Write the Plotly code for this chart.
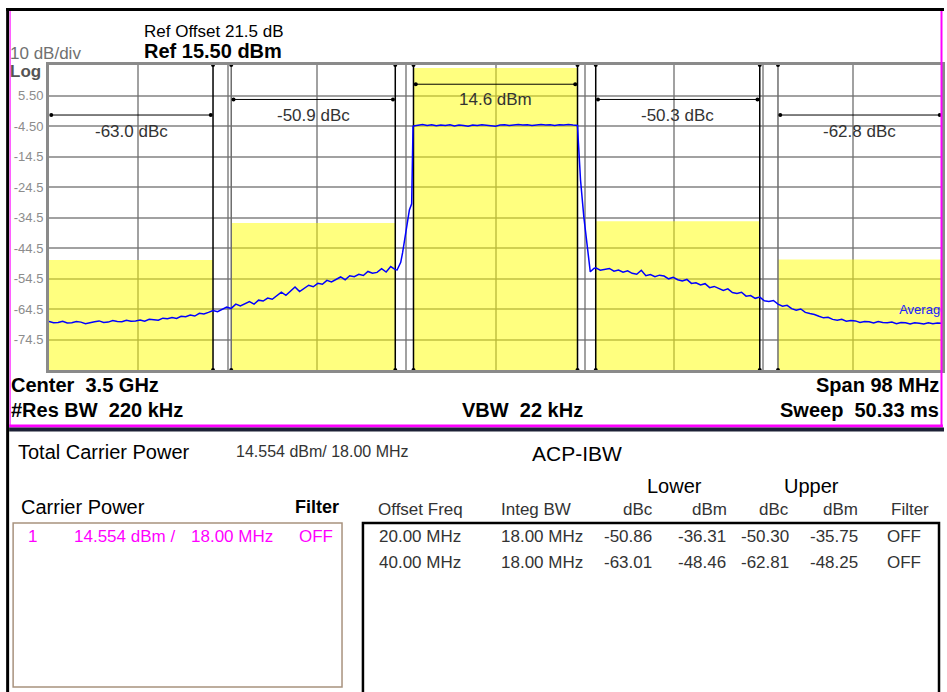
import plotly.graph_objects as go

# ---------------- instrument settings ----------------
REF_LEVEL_DBM = 15.5
DB_PER_DIV = 10
N_DIV = 10
SPAN_MHZ = 98.0
SWEEP_STEP_MHZ = 0.5

y_tick_vals = [5.5, -4.5, -14.5, -24.5, -34.5, -44.5, -54.5, -64.5, -74.5]
y_tick_text = ["5.50", "-4.50", "-14.5", "-24.5", "-34.5", "-44.5", "-54.5", "-64.5", "-74.5"]
x_grid_mhz = [-39.2, -29.4, -19.6, -9.8, 0.0, 9.8, 19.6, 29.4, 39.2]

# ---------------- ACP results ----------------
carrier_power_dbm = 14.554
integ_bw_mhz = 18.0
offset_freq_mhz = [20.0, 40.0]
lower_dbc = [-50.86, -63.01]
lower_dbm = [-36.31, -48.46]
upper_dbc = [-50.30, -62.81]
upper_dbm = [-35.75, -48.25]

# ---------------- measured trace (read from the screen) ----------------
# lower out-of-band, -49.0 .. -11.0 MHz in 0.5 MHz steps
lower_noise_dbm = [
    -68.6, -69.0, -68.9, -68.5, -69.1, -69.0, -68.6, -68.8, -69.3, -68.9,
    -68.7, -68.4, -68.9, -68.8, -68.3, -68.6, -68.7, -68.2, -68.5, -68.4,
    -68.1, -68.5, -67.9, -68.0, -68.2, -67.5, -67.7, -67.3, -67.6, -66.9,
    -67.0, -66.5, -66.8, -65.9, -66.1, -65.6, -65.0, -65.4, -64.6, -63.9,
    -64.3, -62.9, -63.5, -62.8, -62.1, -62.9, -61.6, -61.9, -60.9, -61.3,
    -60.1, -59.0, -60.0, -58.5, -57.3, -58.8, -57.6, -56.7, -57.2, -56.1,
    -56.4, -55.1, -55.6, -54.8, -54.0, -54.9, -53.6, -53.9, -53.1, -53.5,
    -52.2, -52.8, -52.5, -51.3, -52.4, -50.6, -51.6]
lower_skirt_freq = [-10.8, -10.4, -10.2, -10.0, -9.7, -9.45, -9.2, -9.15, -9.05]
lower_skirt_dbm = [-51.7, -49.2, -46.1, -41.9, -36.5, -32.0, -30.0, -12.0, -4.6]
# in-band, -9.0 .. 9.0 MHz in 0.5 MHz steps
carrier_flat_dbm = [
    -4.5, -4.2, -4.0, -4.3, -4.1, -4.4, -4.2, -4.3, -4.1, -4.5,
    -4.2, -4.3, -4.6, -4.2, -4.3, -4.1, -4.2, -4.4, -4.6, -4.2,
    -4.1, -4.3, -4.2, -4.0, -4.2, -4.1, -4.3, -4.2, -4.0, -4.2,
    -4.1, -4.3, -4.1, -4.2, -4.0, -4.2, -4.3]
upper_skirt_freq = [9.1, 9.33, 9.69, 10.05, 10.4, 10.8]
upper_skirt_dbm = [-10.0, -22.2, -34.2, -44.1, -52.3, -51.2]
# upper out-of-band, 11.0 .. 49.0 MHz in 0.5 MHz steps
upper_noise_dbm = [
    -51.0, -51.8, -51.5, -51.2, -52.1, -51.7, -52.4, -52.0, -52.8, -53.1,
    -51.8, -53.6, -53.2, -53.9, -53.4, -53.7, -54.6, -54.1, -54.9, -55.3,
    -54.8, -56.1, -55.9, -56.6, -56.2, -57.5, -57.1, -57.8, -58.4, -57.9,
    -59.1, -59.4, -59.0, -60.3, -60.1, -61.0, -60.6, -61.8, -62.0, -61.7,
    -62.9, -63.6, -63.3, -64.4, -64.9, -64.5, -65.6, -66.0, -66.3, -66.9,
    -67.4, -67.2, -67.9, -68.2, -67.9, -68.5, -68.3, -68.4, -68.9, -68.6,
    -68.7, -69.1, -68.6, -68.9, -69.0, -68.8, -69.3, -68.9, -69.0, -69.4,
    -69.0, -69.2, -69.4, -69.0, -69.3, -69.1, -69.2]

lower_freq = [-49.0 + SWEEP_STEP_MHZ * i for i in range(len(lower_noise_dbm))]
carrier_freq = [-9.0 + SWEEP_STEP_MHZ * i for i in range(len(carrier_flat_dbm))]
upper_freq = [11.0 + SWEEP_STEP_MHZ * i for i in range(len(upper_noise_dbm))]

trace_freq = lower_freq + lower_skirt_freq + carrier_freq + upper_skirt_freq + upper_freq
trace_dbm = lower_noise_dbm + lower_skirt_dbm + carrier_flat_dbm + upper_skirt_dbm + upper_noise_dbm

# ---------------- geometry helpers ----------------
W, H = 947, 692
ML, MR, MT, MB = 49, 2, 65, 322
PW, PH = W - ML - MR, H - MT - MB
Y_BOTTOM = REF_LEVEL_DBM - N_DIV * DB_PER_DIV
HALF_SPAN = SPAN_MHZ / 2
FONT = "Liberation Sans, Arial, sans-serif"


def fx(px):
    return (px - ML) / PW


def fy(py):
    return (H - MB - py) / PH


annotations = []


def txt(x, y, s, size, color="#000000", anchor="left"):
    annotations.append(dict(x=fx(x), y=fy(y), xref="paper", yref="paper", text=s,
                            showarrow=False, xanchor=anchor, yanchor="middle",
                            font=dict(family=FONT, size=size, color=color), borderpad=0))


fig = go.Figure()

# yellow channel-power boxes
centers = [-offset_freq_mhz[1], -offset_freq_mhz[0], 0.0, offset_freq_mhz[0], offset_freq_mhz[1]]
tops = [lower_dbm[1], lower_dbm[0], carrier_power_dbm, upper_dbm[0], upper_dbm[1]]
fig.add_trace(go.Bar(x=centers, y=[t - Y_BOTTOM for t in tops], base=Y_BOTTOM, width=integ_bw_mhz,
                     marker=dict(color="rgba(255,255,0,0.5)", line=dict(width=0)),
                     showlegend=False, hoverinfo="skip"))

# channel edge markers
half = integ_bw_mhz / 2
edges = []
for c in centers:
    for e in (c - half, c + half):
        if abs(e) < HALF_SPAN - 0.01:
            edges.append(e)
grey_edges = [-(offset_freq_mhz[0] + half), offset_freq_mhz[1] - half]
for e in edges:
    col = "#6e6e6e" if any(abs(e - g) < 1e-6 for g in grey_edges) else "#000000"
    fig.add_trace(go.Scatter(x=[e, e], y=[Y_BOTTOM, REF_LEVEL_DBM], mode="lines+markers",
                             line=dict(color=col, width=1.5), marker=dict(size=4, color="#000000"),
                             cliponaxis=False, showlegend=False, hoverinfo="skip"))

# measurement bars + labels
meas_levels = [-0.9, 4.2, 9.2, 4.2, -0.9]
label_levels = [-6.2, -1.0, 4.1, -1.0, -6.2]
labels = [f"{lower_dbc[1]:.1f} dBc", f"{lower_dbc[0]:.1f} dBc", f"{carrier_power_dbm:.1f} dBm",
          f"{upper_dbc[0]:.1f} dBc", f"{upper_dbc[1]:.1f} dBc"]
for c, lv, ly, lab in zip(centers, meas_levels, label_levels, labels):
    fig.add_trace(go.Scatter(x=[c - half + 0.25, c + half - 0.25], y=[lv, lv], mode="lines+markers",
                             line=dict(color="#000000", width=1), marker=dict(size=4, color="#000000"),
                             showlegend=False, hoverinfo="skip"))
    annotations.append(dict(x=c, y=ly, xref="x", yref="y", text=lab, showarrow=False,
                            xanchor="center", yanchor="middle",
                            font=dict(family=FONT, size=17, color="#333333")))

# spectrum trace
fig.add_trace(go.Scatter(x=trace_freq, y=trace_dbm, mode="lines",
                         line=dict(color="#0000ff", width=1.5), showlegend=False, hoverinfo="skip"))
fig.add_trace(go.Scatter(x=[44.3], y=[-65.2], mode="text", text=["Average"], textposition="middle right",
                         textfont=dict(family=FONT, size=13, color="#2020ff"), cliponaxis=True,
                         showlegend=False, hoverinfo="skip"))

# ---------------- header / footer texts ----------------
txt(143, 31, "Ref Offset 21.5 dB", 17)
txt(143, 51, "<b>Ref 15.50 dBm</b>", 20)
txt(9, 53, "10 dB/div", 17, "#707070")
txt(9, 71, "<b>Log</b>", 17, "#555555")

txt(10, 385, "<b>Center\u00a0 3.5 GHz</b>", 20)
txt(10, 410, "<b>#Res BW\u00a0 220 kHz</b>", 20)
txt(524, 410, "<b>VBW\u00a0 22 kHz</b>", 20, anchor="center")
txt(943, 385, "<b>Span 98 MHz</b>", 20, anchor="right")
txt(943, 410, "<b>Sweep\u00a0 50.33 ms</b>", 20, anchor="right")

# bottom panel
txt(17, 452, "Total Carrier Power", 20)
txt(236, 451, f"{carrier_power_dbm:.3f} dBm/ {integ_bw_mhz:.2f} MHz", 16, "#333333")
txt(533, 453, "ACP-IBW", 21)
txt(648, 486, "Lower", 20)
txt(785, 486, "Upper", 20)
txt(20, 507, "Carrier Power", 20)
txt(341, 507, "<b>Filter</b>", 18, anchor="right")

hdr = "#333333"
txt(378, 509, "Offset Freq", 17, hdr)
txt(502, 509, "Integ BW", 17, hdr)
txt(656, 509, "dBc", 17, hdr, "right")
txt(730, 509, "dBm", 17, hdr, "right")
txt(792, 509, "dBc", 17, hdr, "right")
txt(862, 509, "dBm", 17, hdr, "right")
txt(933, 509, "Filter", 17, hdr, "right")

for i, yy in enumerate([536, 562]):
    txt(379, yy, f"{offset_freq_mhz[i]:.2f} MHz", 17, hdr)
    txt(502, yy, f"{integ_bw_mhz:.2f} MHz", 17, hdr)
    txt(655, yy, f"{lower_dbc[i]:.2f}", 17, hdr, "right")
    txt(729, yy, f"{lower_dbm[i]:.2f}", 17, hdr, "right")
    txt(792, yy, f"{upper_dbc[i]:.2f}", 17, hdr, "right")
    txt(862, yy, f"{upper_dbm[i]:.2f}", 17, hdr, "right")
    txt(925, yy, "OFF", 17, hdr, "right")

mag = "#ff00ff"
txt(27, 536, "1", 17, mag)
txt(73, 536, f"{carrier_power_dbm:.3f} dBm /", 17, mag)
txt(190, 536, f"{integ_bw_mhz:.2f} MHz", 17, mag)
txt(299, 536, "OFF", 17, mag)

# ---------------- frame shapes ----------------
shapes = []


def rect(x0, y0, x1, y1, fill=None, line=None, lw=0):
    shapes.append(dict(type="rect", xref="paper", yref="paper", x0=fx(x0), x1=fx(x1), y0=fy(y1), y1=fy(y0),
                       fillcolor=fill if fill else "rgba(0,0,0,0)",
                       line=dict(color=line if line else "rgba(0,0,0,0)", width=lw), layer="above"))


rect(6, 8, 947, 11, fill="#000000")            # top black border
rect(6, 8, 9, 692, fill="#000000")             # left black border
rect(9.5, 11, 10.5, 425, fill=mag)             # left magenta
rect(943.5, 11, 945.5, 427, fill=mag)          # right magenta
rect(9, 424.5, 946, 427.5, fill=mag)           # magenta divider
rect(9, 427.5, 947, 431.5, fill="#1c2035")     # dark divider
rect(13, 523, 343, 687, line="#a8927e", lw=1.5)  # carrier power box
rect(364, 523, 942, 700, line="#000000", lw=2.5)  # ACP table box

fig.update_layout(
    width=W, height=H, autosize=False,
    margin=dict(l=ML, r=MR, t=MT, b=MB, pad=0),
    paper_bgcolor="#ffffff", plot_bgcolor="#ffffff",
    barmode="overlay", hovermode=False, showlegend=False,
    annotations=annotations, shapes=shapes,
    xaxis=dict(range=[-HALF_SPAN, HALF_SPAN], tickvals=x_grid_mhz, showticklabels=False, ticks="",
               showgrid=True, gridcolor="rgba(110,110,110,0.65)", gridwidth=1.5, zeroline=False,
               showline=True, linecolor="#8a8a8a", linewidth=3, mirror=True, fixedrange=True),
    yaxis=dict(range=[Y_BOTTOM, REF_LEVEL_DBM], tickvals=y_tick_vals, ticktext=y_tick_text, ticks="",
               tickfont=dict(family=FONT, size=13, color="#8c8c8c"),
               showgrid=True, gridcolor="rgba(110,110,110,0.65)", gridwidth=1.5, zeroline=False,
               showline=True, linecolor="#8a8a8a", linewidth=3, mirror=True, fixedrange=True),
)

fig.write_html("out.html", config={"displayModeBar": False},
               post_script="document.body.style.margin='0px';document.body.style.padding='0px';")
